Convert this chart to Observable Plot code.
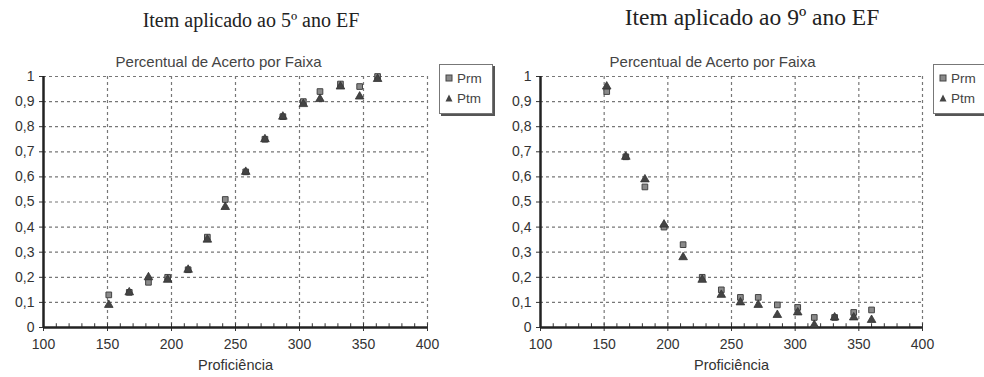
<!DOCTYPE html>
<html>
<head>
<meta charset="utf-8">
<script src="https://cdn.jsdelivr.net/npm/d3@7"></script>
<script src="https://cdn.jsdelivr.net/npm/@observablehq/plot@0.6"></script>
<style>
  html, body { margin: 0; padding: 0; background: #fff; }
  #wrap { position: relative; width: 984px; height: 377px; overflow: hidden; font-family: "Liberation Sans", Arial, sans-serif; }
  .hdr { position: absolute; font-family: "Liberation Serif", "DejaVu Serif", serif; color: #222; white-space: nowrap; transform: translateX(-50%); line-height: 1; }
  .panel { position: absolute; top: 40px; width: 492px; height: 337px; }
  .panel svg { max-width: none !important; }
  .legend { position: absolute; border: 1px solid #777; box-shadow: 2px 2px 0 #555; background: #fff; font-family: "Liberation Sans", Arial, sans-serif; font-size: 13.5px; color: #444; padding: 4px 10px 4px 5px; line-height: 20px; white-space: nowrap; }
  .legend svg { vertical-align: middle; margin-right: 4px; position: relative; top: -1px; }
</style>
</head>
<body>
<div id="wrap"></div>
<script>
// ---- data ----
const headers = ["Item aplicado ao 5º ano EF", "Item aplicado ao 9º ano EF"];
const chartTitle = "Percentual de Acerto por Faixa";
const xLabel = "Proficiência";
const seriesNames = ["Prm", "Ptm"];

const xTicks = [100, 150, 200, 250, 300, 350, 400];
const yTicks = [0, 0.1, 0.2, 0.3, 0.4, 0.5, 0.6, 0.7, 0.8, 0.9, 1];

const x5 = [151, 167, 182, 197, 213, 228, 242, 258, 273, 287, 303, 316, 332, 347, 361];
const prm5 = [0.13, 0.14, 0.18, 0.20, 0.23, 0.36, 0.51, 0.62, 0.75, 0.84, 0.90, 0.94, 0.97, 0.96, 1.00];
const ptm5 = [0.09, 0.14, 0.20, 0.19, 0.23, 0.35, 0.48, 0.62, 0.75, 0.84, 0.89, 0.91, 0.96, 0.92, 0.99];

const x9 = [152, 167, 182, 197, 212, 227, 242, 257, 271, 286, 302, 315, 331, 346, 360];
const prm9 = [0.94, 0.68, 0.56, 0.40, 0.33, 0.20, 0.15, 0.12, 0.12, 0.09, 0.08, 0.04, 0.04, 0.06, 0.07];
const ptm9 = [0.96, 0.68, 0.59, 0.41, 0.28, 0.19, 0.13, 0.10, 0.09, 0.05, 0.06, 0.01, 0.04, 0.04, 0.03];

const minorX = d3.range(100, 401, 10);

// ---- drawing ----
const wrap = document.getElementById("wrap");
const fmt = d => d3.format(".1~f")(d).replace(".", ",");

function panel(cfg) {
  const h = document.createElement("div");
  h.className = "hdr";
  h.style.left = cfg.hdrX + "px";
  h.style.top = cfg.hdrTop + "px";
  h.style.fontSize = cfg.hdrSize + "px";
  h.textContent = cfg.header;
  wrap.appendChild(h);

  const rows = cfg.xs.map((x, i) => ({x, prm: cfg.prm[i], ptm: cfg.ptm[i]}));
  const chart = Plot.plot({
    width: 492,
    height: 337,
    marginTop: 36,
    marginBottom: 50,
    marginLeft: 43,
    marginRight: cfg.marginRight,
    style: {fontFamily: "Liberation Sans, Arial, sans-serif", fontSize: "14px", color: "#333", background: "transparent"},
    x: {domain: [100, 400], ticks: xTicks, tickSize: 4, tickPadding: 8, label: null},
    y: {domain: [0, 1], ticks: yTicks, tickFormat: fmt, tickSize: 4, tickPadding: 5, label: null},
    marks: [
      Plot.ruleY(yTicks.filter(d => d > 0), {stroke: "#777", strokeWidth: 1.2, strokeDasharray: "3,3"}),
      Plot.ruleX(xTicks.filter(d => d > 100), {stroke: "#777", strokeWidth: 1.2, strokeDasharray: "3,3"}),
      Plot.ruleX(minorX, {y1: 0, y2: 0.015, stroke: "#333"}),
      Plot.ruleX([100], {stroke: "#222", strokeWidth: 2.5}),
      Plot.ruleY([0], {stroke: "#222", strokeWidth: 2.5}),
      Plot.dot(rows, {x: "x", y: "prm", symbol: "square", r: 3.2, fill: "#8a8a8a", stroke: "#444", strokeWidth: 1}),
      Plot.dot(rows, {x: "x", y: "ptm", symbol: "triangle", r: 3.2, fill: "#444", stroke: "#333", strokeWidth: 0.8}),
      Plot.text([chartTitle], {frameAnchor: "top", dx: cfg.titleDx, dy: -20, fontSize: 15, fill: "#444"}),
      Plot.text([xLabel], {frameAnchor: "bottom", dy: 42, fontSize: 14.5, fill: "#333"})
    ]
  });
  const p = document.createElement("div");
  p.className = "panel";
  p.style.left = cfg.left + "px";
  p.appendChild(chart);
  wrap.appendChild(p);

  const lg = document.createElement("div");
  lg.className = "legend";
  lg.style.left = cfg.legendLeft + "px";
  lg.style.top = "64px";
  lg.innerHTML =
    `<div><svg width="8" height="8"><rect x="1" y="1" width="6" height="6" fill="#8a8a8a" stroke="#444"/></svg>${seriesNames[0]}</div>` +
    `<div><svg width="8" height="8"><path d="M4,0.5L7.5,7.5L0.5,7.5Z" fill="#444"/></svg>${seriesNames[1]}</div>`;
  wrap.appendChild(lg);
}

panel({left: 0, xs: x5, prm: prm5, ptm: ptm5, header: headers[0], hdrX: 251, hdrTop: 10, hdrSize: 20, legendLeft: 439, marginRight: 65, titleDx: -17});
panel({left: 497, xs: x9, prm: prm9, ptm: ptm9, header: headers[1], hdrX: 752, hdrTop: 6, hdrSize: 23.5, legendLeft: 933, marginRight: 67, titleDx: -19});
</script>
</body>
</html>
